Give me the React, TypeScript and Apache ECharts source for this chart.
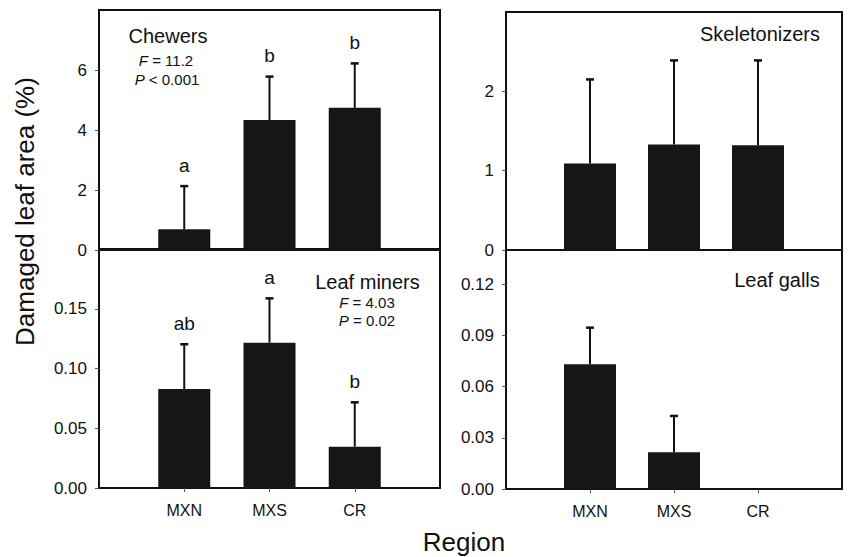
import React, { useEffect, useRef } from "react";
import * as echarts from "echarts";

const categories = ["MXN", "MXS", "CR"];

const chewersMean = [0.69, 4.33, 4.74];
const chewersErr = [1.44, 1.45, 1.48];
const chewersLetters = ["a", "b", "b"];

const skeletonizersMean = [1.09, 1.33, 1.32];
const skeletonizersErr = [1.06, 1.06, 1.07];

const minersMean = [0.0828, 0.1216, 0.0346];
const minersErr = [0.0375, 0.0371, 0.0371];
const minersLetters = ["ab", "a", "b"];

const gallsMean = [0.0731, 0.0215, 0];
const gallsErr = [0.0214, 0.0213, 0];

const FONT = "'Liberation Sans', Arial, Helvetica, sans-serif";
const INK = "#111";

type Panel = {
  grid: { left: number; top: number; width: number; height: number };
  max: number;
  interval: number;
  decimals: number;
  mean: number[];
  err: number[];
  letters: string[] | null;
  bottom: boolean;
};

const panels: Panel[] = [
  { grid: { left: 99, top: 10, width: 341, height: 240 }, max: 8, interval: 2, decimals: 0, mean: chewersMean, err: chewersErr, letters: chewersLetters, bottom: false },
  { grid: { left: 99, top: 249, width: 341, height: 239 }, max: 0.2, interval: 0.05, decimals: 2, mean: minersMean, err: minersErr, letters: minersLetters, bottom: true },
  { grid: { left: 506, top: 12, width: 336, height: 238 }, max: 3, interval: 1, decimals: 0, mean: skeletonizersMean, err: skeletonizersErr, letters: null, bottom: false },
  { grid: { left: 506, top: 250, width: 336, height: 239 }, max: 0.14, interval: 0.03, decimals: 2, mean: gallsMean, err: gallsErr, letters: null, bottom: true },
];

function txt(text: string, x: number, y: number, fontSize: number, extra: any = {}) {
  return {
    type: "text",
    x,
    y,
    ...extra,
    style: {
      text,
      fill: INK,
      fontSize,
      fontFamily: FONT,
      align: "center",
      verticalAlign: "middle",
      rich: {
        i: { fontStyle: "italic", fontSize, fontFamily: FONT, fill: INK },
        n: { fontSize, fontFamily: FONT, fill: INK },
      },
    },
  };
}

export default function App() {
  const ref = useRef<HTMLDivElement>(null);

  useEffect(() => {
    document.body.style.margin = "0";
    if (!ref.current) return;
    const chart = echarts.init(ref.current, null, { renderer: "svg" });

    const grid = panels.map((p) => ({
      ...p.grid,
      show: true,
      borderColor: INK,
      borderWidth: 2,
      backgroundColor: "transparent",
      containLabel: false,
    }));

    const xAxis = panels.map((p, i) => ({
      gridIndex: i,
      type: "value",
      min: 0,
      max: 4,
      interval: 1,
      axisLine: { show: false },
      splitLine: { show: false },
      axisTick: {
        show: p.bottom,
        customValues: [1, 2, 3],
        length: 4,
        lineStyle: { color: "#555", width: 1 },
      },
      axisLabel: {
        show: p.bottom,
        customValues: [1, 2, 3],
        formatter: (v: number) => categories[Math.round(v) - 1] ?? "",
        fontSize: 16,
        fontFamily: FONT,
        color: INK,
        margin: 14,
      },
    }));

    const yAxis = panels.map((p, i) => ({
      gridIndex: i,
      type: "value",
      min: 0,
      max: p.max,
      interval: p.interval,
      axisLine: { show: false },
      splitLine: { show: false },
      axisTick: { show: true, length: 4, lineStyle: { color: "#555", width: 1 } },
      axisLabel: {
        showMaxLabel: false,
        formatter: (v: number) => v.toFixed(p.decimals),
        fontSize: 17,
        fontFamily: FONT,
        color: INK,
        margin: 12,
      },
    }));

    const series: any[] = [];
    panels.forEach((p, i) => {
      series.push({
        type: "bar",
        xAxisIndex: i,
        yAxisIndex: i,
        data: p.mean.map((v, j) => [j + 1, v]),
        barWidth: 52,
        itemStyle: { color: "#161616" },
        silent: true,
        z: 2,
      });
      series.push({
        type: "custom",
        xAxisIndex: i,
        yAxisIndex: i,
        data: p.mean.map((v, j) => [j + 1, v, p.err[j]]),
        encode: { x: 0, y: 1 },
        silent: true,
        z: 3,
        clip: false,
        renderItem: (params: any, api: any) => {
          const x = api.value(0);
          const m = api.value(1);
          const e = api.value(2);
          const children: any[] = [];
          const base = api.coord([x, m]);
          const top = api.coord([x, m + e]);
          if (e > 0) {
            children.push({
              type: "line",
              shape: { x1: base[0], y1: base[1], x2: top[0], y2: top[1] },
              style: { stroke: INK, lineWidth: 2 },
            });
            children.push({
              type: "line",
              shape: { x1: top[0] - 4, y1: top[1], x2: top[0] + 4, y2: top[1] },
              style: { stroke: INK, lineWidth: 2.5 },
            });
          }
          const letter = p.letters ? p.letters[params.dataIndex] : "";
          if (letter) {
            children.push({
              type: "text",
              x: top[0],
              y: top[1] - 21,
              style: {
                text: letter,
                fill: INK,
                fontSize: 19,
                fontFamily: FONT,
                align: "center",
                verticalAlign: "middle",
              },
            });
          }
          return { type: "group", children };
        },
      });
    });

    const graphic = [
      txt("Chewers", 168, 35.5, 20),
      txt("{i|F}{n| = 11.2}", 166, 60, 15),
      txt("{i|P}{n| < 0.001}", 167, 79, 15),
      txt("Skeletonizers", 760, 34, 20),
      txt("Leaf miners", 367.5, 282, 20),
      txt("{i|F}{n| = 4.03}", 367, 302, 15),
      txt("{i|P}{n| = 0.02}", 367, 320, 15),
      txt("Leaf galls", 777, 280, 20),
      txt("Region", 464, 542, 26),
      txt("Damaged leaf area (%)", 25, 211.5, 26, { rotation: Math.PI / 2 }),
    ];

    chart.setOption({
      animation: false,
      backgroundColor: "#fff",
      grid,
      xAxis,
      yAxis,
      series,
      graphic,
    });

    return () => chart.dispose();
  }, []);

  return <div ref={ref} style={{ width: 849, height: 557 }} />;
}
